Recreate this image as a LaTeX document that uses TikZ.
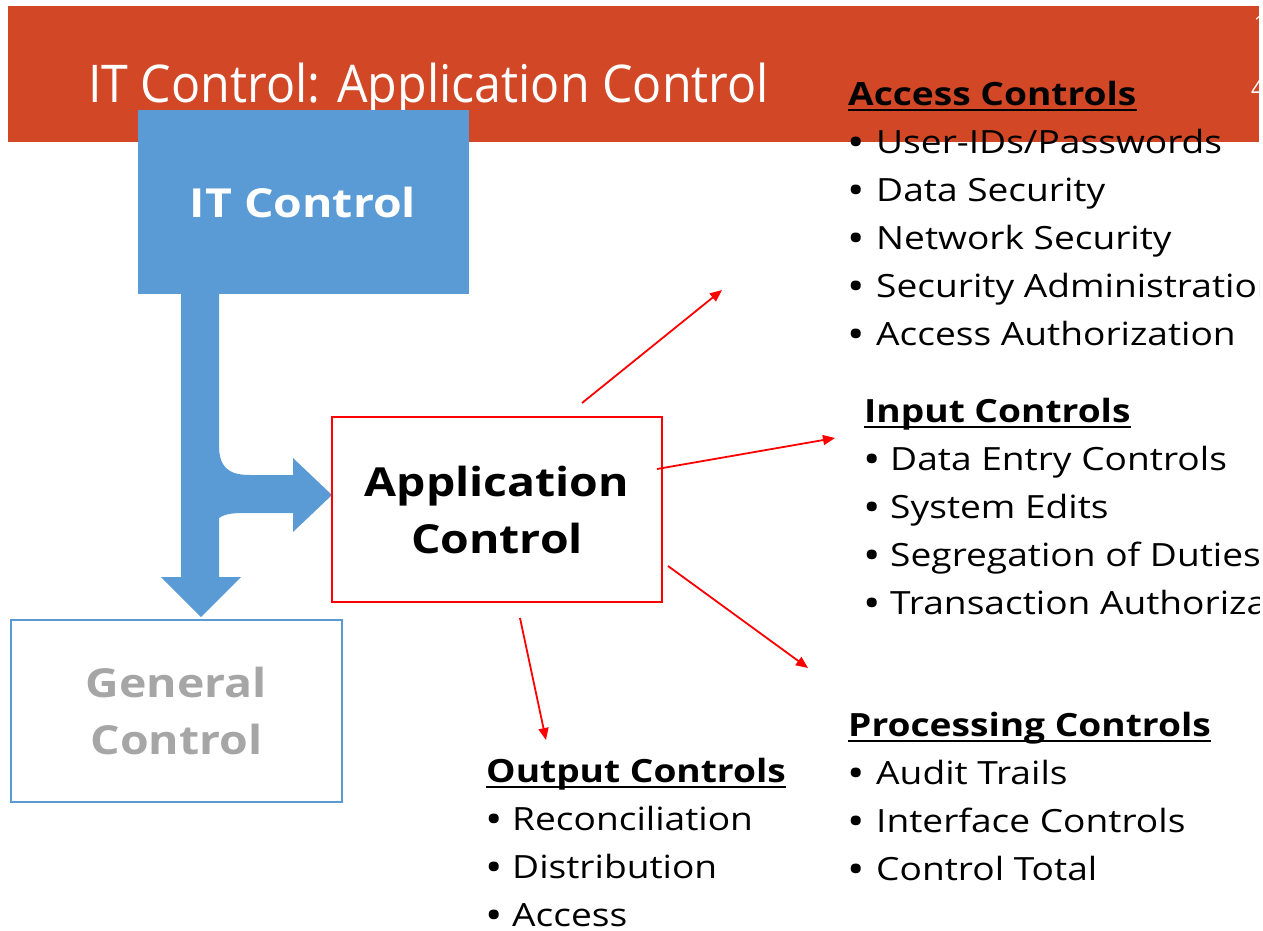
\documentclass[tikz,border=0pt]{standalone}
\usepackage{fontspec}
\setmainfont{Open Sans}[FakeStretch=1.16]
\newfontfamily\titlefont{Open Sans}[FakeStretch=0.93]
\usetikzlibrary{arrows.meta}
\definecolor{banner}{HTML}{D24726}
\definecolor{itblue}{HTML}{5B9BD5}
\definecolor{gentext}{HTML}{A6A6A6}

\begin{document}
\begin{tikzpicture}[x=1pt,y=-1pt,
  txt/.style={anchor=base west,inner sep=0pt,font=\fontsize{32}{38}\selectfont},
  dot/.style={anchor=base west,inner sep=0pt,font=\fontsize{40}{38}\selectfont},
  head/.style={anchor=base west,inner sep=0pt,font=\fontsize{32}{38}\selectfont\bfseries},
  ptr/.style={draw=red,line width=1.8pt,-{Triangle[length=12pt,width=10pt]}},
  uline/.style={line width=2.2pt},
  bigbox/.style={minimum width=331pt,minimum height=184pt,inner sep=0pt,align=center,
    font=\fontsize{40}{57}\selectfont\bfseries}]

\path[use as bounding box] (0,0) rectangle (1263,930);

\begin{scope}
\clip (0,0) rectangle (1259,930);

% title banner
\fill[banner] (8,6) rectangle (1259,142);
\node[anchor=base west,inner sep=0pt,text=white,font=\titlefont\fontsize{52}{60}\selectfont] (title) at (88,102) {IT Control: Application Control};
\node[anchor=base west,inner sep=0pt,text=white,font=\titlefont\fontsize{20}{24}\selectfont] (pgA) at (1254,30) {1};
\node[anchor=base west,inner sep=0pt,text=white,font=\titlefont\fontsize{24}{28}\selectfont] (pgB) at (1251,97) {4};

% IT control box and the split arrow
\node[bigbox,fill=itblue,text=white] (it) at (303,202) {IT Control};
\fill[itblue] (181,294) -- (219,294) -- (219,445)
  .. controls (219,466) and (227,475) .. (250,475) -- (293,475) -- (293,458)
  -- (332,495) -- (293,532) -- (293,513) -- (242,513)
  .. controls (230,513) and (223,515) .. (219,518)
  -- (219,577) -- (241,577) -- (201,617) -- (161,577) -- (181,577) -- cycle;

% application and general control boxes
\node[bigbox,draw=red,line width=1.6pt,minimum width=330pt,minimum height=185pt] (app) at (497,509.5) {Application\\Control};
\node[bigbox,draw=itblue,line width=1.6pt,text=gentext,minimum height=182pt] (gen) at (176.5,711) {General\\Control};

% red pointers
\coordinate (p1s) at (582,403); \coordinate (p1e) at (722,290);
\coordinate (p2s) at (657,469); \coordinate (p2e) at (835,438);
\coordinate (p3s) at (668,566); \coordinate (p3e) at (808,668);
\coordinate (p4s) at (520,618); \coordinate (p4e) at (546,740);
\draw[ptr] (p1s) -- (p1e);
\draw[ptr] (p2s) -- (p2e);
\draw[ptr] (p3s) -- (p3e);
\draw[ptr] (p4s) -- (p4e);

% access controls
\node[head] (hAcc) at (848,105) {Access Controls};
\draw[uline] ([yshift=-5pt]hAcc.base west) -- ([yshift=-5pt]hAcc.base east);
\node[dot] (bA1) at (847,156) {•}; \node[txt] (tA1) at (876,153) {User-IDs/Passwords};
\node[dot] (bA2) at (847,204) {•}; \node[txt] (tA2) at (876,201) {Data Security};
\node[dot] (bA3) at (847,252) {•}; \node[txt] (tA3) at (876,249) {Network Security};
\node[dot] (bA4) at (847,300) {•}; \node[txt] (tA4) at (876,297) {Security Administration};
\node[dot] (bA5) at (847,348) {•}; \node[txt] (tA5) at (876,345) {Access Authorization};

% input controls
\node[head] (hIn) at (864,422) {Input Controls};
\draw[uline] ([yshift=-5pt]hIn.base west) -- ([yshift=-5pt]hIn.base east);
\node[dot] (bI1) at (863,473) {•}; \node[txt] (tI1) at (890,470) {Data Entry Controls};
\node[dot] (bI2) at (863,521) {•}; \node[txt] (tI2) at (890,518) {System Edits};
\node[dot] (bI3) at (863,569) {•}; \node[txt] (tI3) at (890,566) {Segregation of Duties};
\node[dot] (bI4) at (863,617) {•}; \node[txt] (tI4) at (890,614) {Transaction Authorization};

% processing controls
\node[head] (hPr) at (848,736) {Processing Controls};
\draw[uline] ([yshift=-5pt]hPr.base west) -- ([yshift=-5pt]hPr.base east);
\node[dot] (bP1) at (847,787) {•}; \node[txt] (tP1) at (876,784) {Audit Trails};
\node[dot] (bP2) at (847,835) {•}; \node[txt] (tP2) at (876,832) {Interface Controls};
\node[dot] (bP3) at (847,883) {•}; \node[txt] (tP3) at (876,880) {Control Total};

% output controls
\node[head] (hOut) at (486,782) {Output Controls};
\draw[uline] ([yshift=-5pt]hOut.base west) -- ([yshift=-5pt]hOut.base east);
\node[dot] (bO1) at (485,833) {•}; \node[txt] (tO1) at (512,830) {Reconciliation};
\node[dot] (bO2) at (485,881) {•}; \node[txt] (tO2) at (512,878) {Distribution};
\node[dot] (bO3) at (485,929) {•}; \node[txt] (tO3) at (512,926) {Access};
\end{scope}
\end{tikzpicture}
\end{document}
